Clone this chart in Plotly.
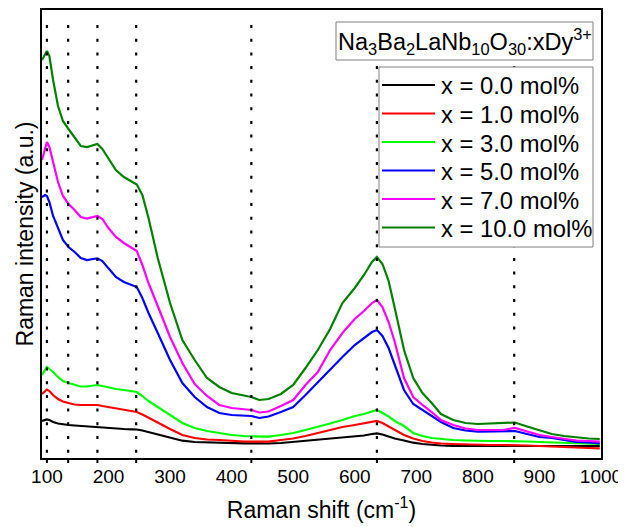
import plotly.graph_objects as go

# Raman shift (cm-1)
raman_shift = [92, 97, 100, 104, 110, 118, 126, 135, 145, 155, 165, 175, 182, 190, 200, 212, 225, 238, 246, 255,
               265, 280, 300, 320, 340, 360, 380, 400, 420, 432, 445, 460, 480, 500, 520, 540, 560, 580, 600, 615,
               628, 636, 645, 655, 665, 680, 695, 710, 725, 740, 760, 780, 800, 820, 840, 860, 880, 900, 920, 940,
               960, 980, 998]

x0 = [37, 38, 38.5, 38, 36, 34.5, 33.5, 33, 32.5, 32, 31.5, 31.5, 31.3, 31, 30.5, 29.7, 29, 28.7, 28.5, 27.5,
      26, 23.5, 20.5, 17.3, 16, 15.5, 15.3, 15, 14.7, 14.7, 14.5, 14.5, 15, 16, 17, 18, 19.5, 20.5, 21.5, 22.5,
      24, 24.7, 23.5, 21.3, 19.5, 17.5, 15.3, 14, 13, 12.5, 12, 12, 12, 12, 12, 12, 12, 12, 12, 12,
      12, 12, 12]

x1 = [64, 67, 68.5, 67, 63, 59, 56.5, 55, 53.5, 53, 53, 53, 53, 52, 51, 50, 48.5, 47, 46, 43.5,
      40, 35.5, 29, 23, 20, 18.5, 18, 17, 16.5, 16.3, 16, 16.3, 18, 19.5, 22, 25, 28, 31, 33, 34.5,
      36, 37, 35, 31.5, 28, 23, 19.5, 17, 15.5, 14.5, 14, 13.5, 13, 13, 13, 13, 12.5, 12, 11.7, 11,
      10.5, 10, 9.7]

x3 = [83, 88, 91, 89, 86, 81, 77, 75, 73, 71.5, 71.5, 72.5, 73, 72, 70.5, 69, 68, 67, 66, 62,
      57, 51, 43, 35, 30, 27, 25, 23, 22, 22, 21.5, 21.3, 23, 25, 28, 31, 34.5, 38, 42, 44,
      46.5, 48, 45, 41.5, 37, 32, 25, 22, 20, 19, 18, 17.5, 17, 17, 17, 17, 16.5, 16, 15.5, 15,
      14.5, 14, 14]

x5 = [261, 263, 262, 256, 242, 229, 218, 211, 206, 200, 198, 199, 199.7, 197, 190, 181, 176, 173, 171, 160,
      145, 125, 98, 75, 61, 51, 45, 43, 42.5, 42, 40, 41.5, 46, 51, 63, 76, 88, 101, 113, 120,
      126, 128, 122, 110, 94, 68, 54, 48, 42, 36, 30, 27.5, 26.3, 26.3, 26.5, 27, 24, 21, 20, 18,
      16, 15.5, 14.7]

x7 = [298, 310, 316, 311, 295, 276, 262, 254, 248, 241, 239.5, 241, 242, 239, 230, 221, 215, 210, 207, 193,
      175, 152, 121, 95, 74, 62, 53, 50, 48.5, 48, 45.5, 46.5, 52, 58, 73, 86, 108, 125, 139, 147,
      155, 158, 151, 136, 116, 80, 61, 53, 46, 38, 33, 29.5, 28, 28, 28, 30, 26.5, 23, 21, 19,
      17.5, 17, 16.3]

x10 = [398, 404, 407, 402, 378, 352, 337, 329, 320, 312, 311, 313, 314, 309, 299, 288, 281, 276, 273.5, 263,
       240, 200, 155, 118, 98, 80, 71, 65, 62.5, 61, 58, 59, 64, 73, 90, 108, 129, 155, 170, 183,
       196, 201, 194, 177, 150, 108, 80, 65, 55, 44, 38, 35, 34, 34.5, 35, 35.5, 31.5, 28, 24, 22,
       20.5, 19.5, 19]

series_names = ["x = 0.0 mol%", "x = 1.0 mol%", "x = 3.0 mol%", "x = 5.0 mol%", "x = 7.0 mol%", "x = 10.0 mol%"]
series_values = [x0, x1, x3, x5, x7, x10]
series_colors = ["#000000", "#FF0000", "#00FF00", "#0000FF", "#FF00FF", "#008000"]

# Raman mode positions (dotted guide lines)
mode_positions = [100, 134.5, 182, 245, 432, 636, 859]

tick_values = [100, 200, 300, 400, 500, 600, 700, 800, 900, 1000]

FONT = "Liberation Sans, Arial, sans-serif"

# figure is offset by the page's 8px body margin
W, H = 618, 519
ML, MR, MT, MB = 34, 25, 2, 69
PW, PH = W - ML - MR, H - MT - MB
PLOT_LEFT, PLOT_BOTTOM = 42, 458  # in window pixels


def px(xp):
    return (xp - PLOT_LEFT) / PW


def py(yp):
    return (PLOT_BOTTOM - yp) / PH


fig = go.Figure()
for name, vals, col in zip(series_names, series_values, series_colors):
    fig.add_trace(go.Scatter(x=raman_shift, y=vals, mode="lines", name=name,
                             line=dict(color=col, width=2.2), showlegend=False))

for p in mode_positions:
    fig.add_shape(type="line", xref="x", yref="paper", x0=p, x1=p, y0=py(25), y1=0.0,
                  line=dict(color="black", width=2.2, dash="3px,10.7px"), layer="above")
    fig.add_shape(type="line", xref="x", yref="paper", x0=p, x1=p, y0=0.0, y1=py(463),
                  line=dict(color="black", width=2), layer="above")

# title box
fig.add_shape(type="rect", xref="paper", yref="paper", x0=px(336), x1=px(593), y0=py(22), y1=py(60),
              line=dict(color="#808080", width=1), fillcolor="white", layer="above")
fig.add_annotation(text="Na<sub>3</sub>Ba<sub>2</sub>LaNb<sub>10</sub>O<sub>30</sub>:xDy<sup>3+</sup>",
                   xref="paper", yref="paper", x=px(464.5), y=py(42), xanchor="center", yanchor="middle",
                   showarrow=False, font=dict(family=FONT, size=23.5, color="black"))

# legend box
fig.add_shape(type="rect", xref="paper", yref="paper", x0=px(379), x1=px(593), y0=py(67), y1=py(247),
              line=dict(color="#808080", width=1), fillcolor="white", layer="above")
row0, step = 85, 28.5
for i, (name, col) in enumerate(zip(series_names, series_colors)):
    yc = row0 + i * step
    fig.add_shape(type="line", xref="paper", yref="paper", x0=px(382), x1=px(435), y0=py(yc), y1=py(yc),
                  line=dict(color=col, width=2.2), layer="above")
    fig.add_annotation(text=name, xref="paper", yref="paper", x=px(439), y=py(yc + 1),
                       xanchor="left", yanchor="middle", showarrow=False,
                       font=dict(family=FONT, size=23.8, color="black"))

fig.update_layout(
    width=W, height=H,
    margin=dict(l=ML, r=MR, t=MT, b=MB),
    paper_bgcolor="white", plot_bgcolor="white",
    font=dict(family=FONT, color="black"),
    showlegend=False,
    xaxis=dict(range=[92, 1000], tickvals=tick_values, ticks="", showgrid=False, zeroline=False,
               showline=True, linecolor="black", linewidth=1.5, mirror=True, automargin=False,
               tickfont=dict(family=FONT, size=19, color="black"),
               title=dict(text="Raman shift (cm<sup>-1</sup>)", font=dict(family=FONT, size=23, color="black"),
                          standoff=16)),
    yaxis=dict(range=[0, 448], showticklabels=False, ticks="", showgrid=False, zeroline=False,
               showline=True, linecolor="black", linewidth=1.5, mirror=True, automargin=False,
               title=dict(text="Raman intensity (a.u.)", font=dict(family=FONT, size=23, color="black"),
                          standoff=0)),
)

fig.write_html("out.html")
